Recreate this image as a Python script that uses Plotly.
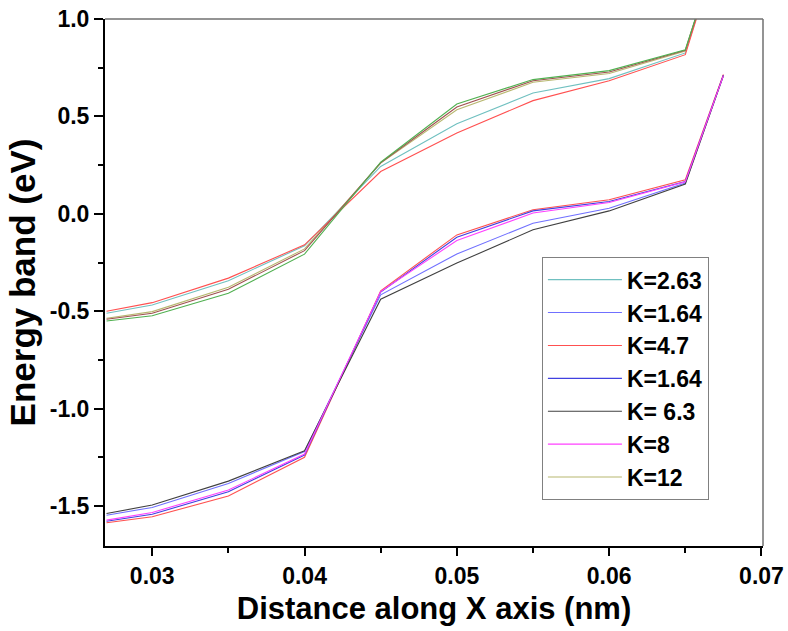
import plotly.graph_objects as go

# x positions (nm)
x_pts = [0.027, 0.030, 0.035, 0.040, 0.045, 0.050, 0.055, 0.060, 0.065, 0.0675]

# Upper band
up_k263 = [-0.510, -0.468, -0.343, -0.164, 0.243, 0.462, 0.620, 0.694, 0.826, 1.45]
up_k47 = [-0.500, -0.456, -0.330, -0.159, 0.217, 0.415, 0.581, 0.683, 0.817, 1.45]
up_k12 = [-0.536, -0.502, -0.377, -0.180, 0.260, 0.534, 0.675, 0.720, 0.835, 1.45]
up_brown = [-0.541, -0.510, -0.387, -0.189, 0.262, 0.548, 0.683, 0.728, 0.839, 1.45]
up_green = [-0.550, -0.523, -0.408, -0.207, 0.265, 0.564, 0.689, 0.735, 0.842, 1.45]

# Lower band
lo_k63 = [-1.538, -1.495, -1.372, -1.216, -0.438, -0.253, -0.082, 0.015, 0.153, 0.710]
lo_k164a = [-1.547, -1.507, -1.384, -1.220, -0.416, -0.206, -0.048, 0.029, 0.158, 0.710]
lo_k8 = [-1.572, -1.533, -1.418, -1.233, -0.399, -0.137, 0.004, 0.058, 0.165, 0.710]
lo_k164b = [-1.578, -1.542, -1.427, -1.238, -0.402, -0.120, 0.015, 0.063, 0.166, 0.712]
lo_k47 = [-1.586, -1.555, -1.448, -1.250, -0.395, -0.108, 0.021, 0.072, 0.175, 0.715]

x_tick_vals = [0.03, 0.04, 0.05, 0.06, 0.07]
x_tick_text = ["0.03", "0.04", "0.05", "0.06", "0.07"]
y_tick_vals = [-1.5, -1.0, -0.5, 0.0, 0.5, 1.0]
y_tick_text = ["-1.5", "-1.0", "-0.5", "0.0", "0.5", "1.0"]

C_TEAL = "#70c0c0"
C_BLUE = "#7070ff"
C_RED = "#ff5050"
C_DBLUE = "#4040e0"
C_BLACK = "#404040"
C_MAG = "#ff40ff"
C_OLIVE = "#b8b870"
C_BROWN = "#a05050"
C_GREEN = "#50b050"

W = 1.1
fig = go.Figure()


def add(y, name, color, show):
    fig.add_trace(go.Scatter(x=x_pts, y=y, mode="lines", name=name,
                             line=dict(color=color, width=W),
                             showlegend=show))


add(up_k263, "K=2.63", C_TEAL, True)
add(lo_k164a, "K=1.64", C_BLUE, True)
add(lo_k47, "K=4.7", C_RED, True)
add(lo_k164b, "K=1.64", C_DBLUE, True)
add(lo_k63, "K= 6.3", C_BLACK, True)
add(lo_k8, "K=8", C_MAG, True)
add(up_k12, "K=12", C_OLIVE, True)
add(up_k47, "K=4.7", C_RED, False)
add(up_brown, "", C_BROWN, False)
add(up_green, "", C_GREEN, False)

FONT = "Arial, Liberation Sans"
tick_font = dict(family=FONT, size=23, color="black", weight="bold")
xtitle_font = dict(family=FONT, size=31, color="black", weight="bold")
ytitle_font = dict(family=FONT, size=35, color="black", weight="bold")

fig.update_layout(
    width=788, height=631,
    margin=dict(l=105, r=25, t=19, b=85, autoexpand=False),
    paper_bgcolor="white", plot_bgcolor="white",
    showlegend=True,
    legend=dict(x=0.664, y=0.548, xanchor="left", yanchor="top",
                bordercolor="#808080", borderwidth=1, bgcolor="white",
                font=dict(family=FONT, size=23, color="black", weight="bold"),
                tracegroupgap=0, itemwidth=74, traceorder="normal"),
    xaxis=dict(range=[0.0269, 0.0701], showgrid=False, zeroline=False, automargin=False,
               tickvals=x_tick_vals, ticktext=x_tick_text,
               ticks="outside", ticklen=8, tickwidth=2, tickcolor="black",
               showline=True, linecolor="black", linewidth=2,
               tickfont=tick_font,
               minor=dict(ticks="outside", ticklen=5, tickwidth=2, tickcolor="black", dtick=0.005, tick0=0.025),
               title=dict(text="Distance along X axis (nm)", font=xtitle_font, standoff=10)),
    yaxis=dict(range=[-1.705, 1.0], showgrid=False, zeroline=False, automargin=False,
               tickvals=y_tick_vals, ticktext=y_tick_text,
               ticks="outside", ticklen=9, tickwidth=2, tickcolor="black",
               showline=True, linecolor="black", linewidth=2,
               tickfont=tick_font,
               minor=dict(ticks="outside", ticklen=5, tickwidth=2, tickcolor="black", dtick=0.25, tick0=0),
               title=dict(text="Energy band (eV)", font=ytitle_font, standoff=4)),
    shapes=[
        dict(type="line", xref="paper", yref="paper", x0=0, x1=1, y0=1, y1=1,
             line=dict(color="#707070", width=1.5)),
        dict(type="line", xref="paper", yref="paper", x0=1, x1=1, y0=0, y1=1,
             line=dict(color="#707070", width=1.5)),
    ],
)

fig.write_html("out.html")
